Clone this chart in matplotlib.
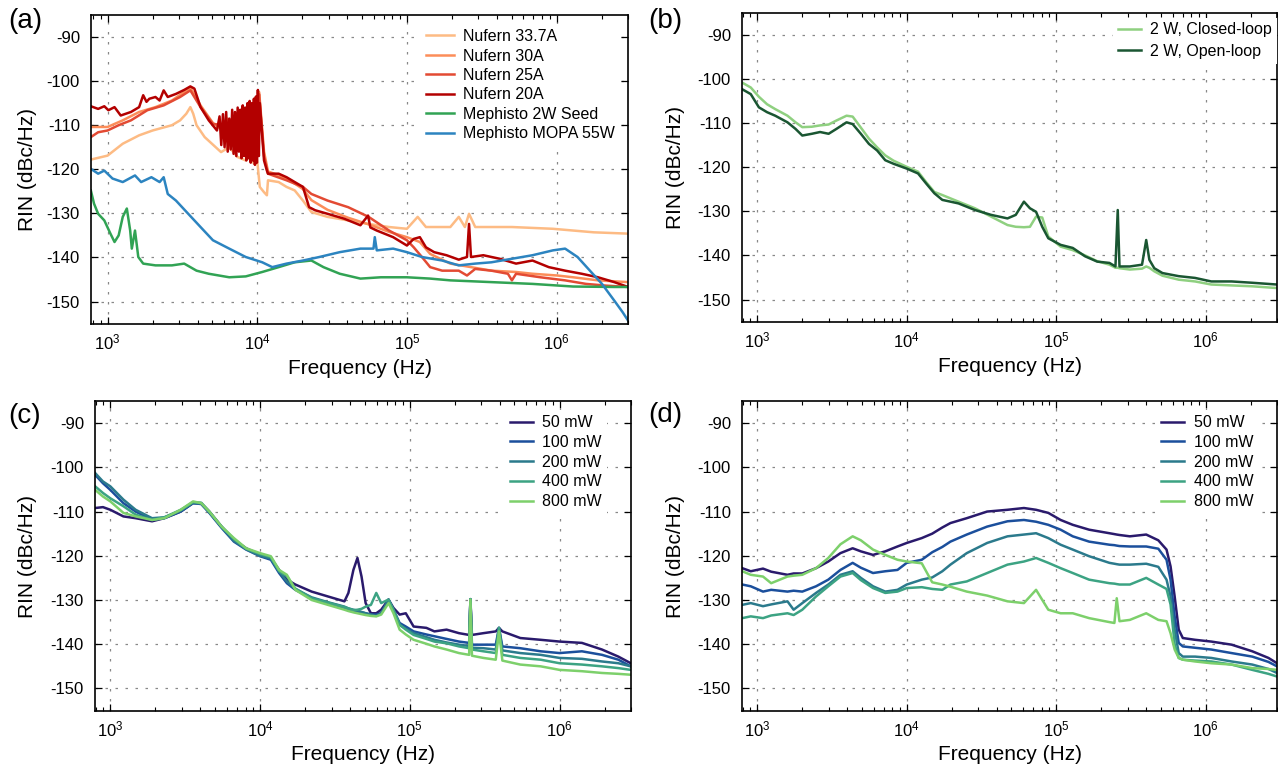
import matplotlib.pyplot as plt
import matplotlib.ticker as ticker

plt.rcParams['font.family'] = ['Liberation Sans', 'DejaVu Sans']
plt.rcParams['axes.unicode_minus'] = False
plt.rcParams['mathtext.default'] = 'regular'

# ---------------- panel (a) ----------------
n337_f = [773, 1000, 1263, 1625, 2000, 2692, 3052, 3357, 3573, 3735, 3930, 4455, 5728, 6500, 7380,
          8380, 8910, 9480, 9940, 10400, 11100, 11600, 11800, 13900, 15700, 17800, 20200, 23000,
          29500, 40500, 55500, 76000, 100000, 118000, 134000, 195000, 222000, 244000, 260000,
          286000, 503000, 944000, 1770000, 3000000]
n337_v = [-117.8, -116.9, -114.2, -112.3, -111.2, -110.0, -108.9, -107.4, -105.9, -107.4, -110.0,
          -112.7, -116.1, -115.0, -117.2, -118.0, -116.9, -118.7, -117.2, -124.0, -125.2, -125.9,
          -122.5, -122.9, -124.0, -124.8, -127.1, -129.7, -130.8, -131.6, -132.4, -133.1, -133.5,
          -130.8, -133.1, -133.1, -130.8, -133.1, -130.1, -133.1, -133.1, -133.5, -134.3, -134.6]

n30_f = [773, 1000, 1263, 1625, 2089, 2692, 3573, 4180, 5057, 5800, 6300, 6800, 7300, 7800, 8300,
         8800, 9300, 9800, 10300, 11100, 11800, 15700, 20200, 23000, 29500, 40500, 55500, 76000,
         100000, 122000, 143000, 195000, 268000, 367000, 536000, 690000, 1010000, 1290000,
         1890000, 3000000]
n30_v = [-110.4, -110.4, -108.9, -107.0, -105.9, -104.4, -101.5, -105.5, -109.5, -111.0, -108.5,
         -113.0, -109.0, -112.5, -108.0, -113.5, -107.0, -111.5, -102.5, -116.0, -120.5, -122.0,
         -124.5, -127.0, -129.2, -131.0, -132.5, -134.2, -135.4, -136.5, -139.2, -141.4, -142.2,
         -143.0, -143.3, -143.7, -144.1, -144.5, -145.2, -145.6]

n25_f = [773, 865, 1000, 1186, 1433, 1844, 2371, 3052, 3573, 4180, 5057, 6000, 6500, 7000, 7500,
         8000, 8500, 9000, 9500, 10000, 10300, 11100, 11800, 15700, 20200, 23000, 29500, 40500,
         55500, 76000, 100000, 111000, 126000, 143000, 172000, 222000, 252000, 286000, 367000,
         473000, 503000, 536000, 780000, 1140000, 1570000, 2150000, 3000000]
n25_v = [-112.7, -111.6, -111.2, -110.0, -108.9, -106.6, -105.5, -103.6, -102.1, -105.9, -109.7,
         -110.0, -113.0, -109.0, -114.0, -108.0, -115.0, -107.0, -114.0, -104.0, -103.0, -117.0,
         -121.0, -122.5, -124.0, -125.6, -127.1, -128.6, -130.8, -133.9, -136.1, -137.7, -139.9,
         -142.2, -143.0, -143.0, -144.1, -142.6, -143.0, -143.7, -145.2, -143.7, -144.5, -145.2,
         -146.0, -146.4, -146.7]

n20_f = [773, 865, 951, 1013, 1113, 1224, 1433, 1625, 1730, 1820, 1901, 2089, 2227, 2371, 2524,
         2864, 3250, 3573, 3802, 4180, 4742, 5380,
         5600, 5750, 5900, 6050, 6200, 6350, 6500, 6650, 6800, 6950, 7100, 7250, 7400, 7550, 7700,
         7850, 8000, 8150, 8300, 8450, 8600, 8750, 8900, 9050, 9200, 9350, 9500, 9650, 9800, 9950,
         10100, 10250, 10400,
         11100, 11600, 11800, 13900, 15700, 17800, 20200, 22200, 24400, 29500, 38000, 48900,
         55000, 57000, 62900, 80900, 100000, 111000, 122000, 134000, 152000, 184000, 222000,
         252000, 260000, 268000, 324000, 417000, 536000, 690000, 887000, 1140000, 1470000,
         1890000, 2430000, 3000000]
n20_v = [-105.7, -106.3, -105.7, -106.6, -105.9, -107.8, -107.0, -105.9, -103.2, -104.7, -104.0,
         -103.6, -104.4, -102.1, -103.6, -102.9, -102.0, -101.2, -101.7, -105.9, -108.9, -111.2,
         -108.0, -114.5, -107.5, -115.0, -107.0, -116.0, -108.5, -115.5, -106.5, -116.5, -107.0,
         -117.0, -106.0, -116.0, -106.5, -117.5, -105.5, -117.0, -106.0, -118.0, -105.0, -117.5,
         -104.5, -118.5, -105.0, -118.0, -104.0, -119.0, -103.5, -118.5, -102.0, -117.0, -105.0,
         -118.0, -120.3, -121.0, -121.0, -121.8, -122.9, -124.0, -128.6, -129.3, -130.1, -131.2,
         -132.7, -130.5, -133.2, -133.9, -135.4, -137.3, -135.8, -135.4, -137.7, -138.8, -139.5,
         -140.5, -139.9, -132.4, -139.9, -139.5, -140.3, -141.4, -140.7, -142.2, -143.0, -143.7,
         -144.5, -145.6, -146.7]

seed_f = [773, 812, 865, 951, 1045, 1113, 1186, 1263, 1345, 1416, 1452, 1525, 1604, 1730, 2089,
          2692, 3250, 3930, 4742, 6500, 8380, 10800, 13900, 17800, 23000, 27700, 35600, 48900,
          67000, 100000, 143000, 195000, 268000, 367000, 690000, 1290000, 2430000, 3000000]
seed_v = [-124.8, -127.8, -130.1, -131.6, -134.6, -136.5, -135.0, -130.8, -128.9, -133.9, -138.0,
          -133.9, -139.9, -141.4, -141.8, -141.8, -141.4, -143.0, -143.7, -144.5, -144.3, -143.3,
          -142.2, -141.1, -140.7, -142.2, -143.7, -144.8, -144.5, -144.5, -144.8, -145.2, -145.4,
          -145.6, -146.0, -146.6, -146.7, -146.7]

mopa_f = [773, 865, 951, 1079, 1263, 1525, 1676, 1963, 2227, 2371, 2524, 2864, 3459, 4180, 5057,
          6500, 8380, 10800, 12600, 15700, 20200, 26000, 35600, 48900, 59800, 61000, 62900, 80900,
          100000, 126000, 172000, 222000, 286000, 367000, 503000, 690000, 944000, 1140000,
          1380000, 1670000, 2010000, 2430000, 2760000, 3000000]
mopa_v = [-119.9, -121.0, -120.3, -122.1, -122.9, -121.4, -122.9, -121.8, -122.9, -121.8, -125.6,
          -127.1, -130.1, -133.1, -136.1, -138.0, -139.9, -141.1, -142.2, -141.4, -140.7, -139.9,
          -138.8, -138.0, -138.0, -135.4, -138.4, -138.0, -138.8, -139.9, -140.7, -141.8, -141.4,
          -141.1, -140.3, -139.5, -138.4, -138.0, -139.9, -143.0, -146.0, -149.8, -152.4, -154.3]

# ---------------- panel (b) ----------------
freq_b = [793, 904, 1025, 1162, 1318, 1592, 1803, 2000, 2318, 2630, 3000, 3381, 3955, 4345, 4930,
          5585, 6340, 7178, 8150, 10000, 11900, 13500, 15300, 17300, 22200, 28600, 36700, 47200,
          53600, 60800, 66700, 73300, 80600, 88500, 107000, 129000, 156000, 188000, 227000,
          249000, 258000, 265000, 311000, 375000, 400000, 420000, 453000, 514000, 660000, 849000,
          1090000, 1490000, 2050000, 3000000]
open_loop = [-102.3, -103.4, -106.4, -107.5, -108.3, -109.8, -111.3, -112.8, -112.4, -112.0, -112.4,
             -111.3, -109.8, -110.2, -112.4, -114.7, -116.2, -118.4, -119.2, -120.3, -121.4, -123.7,
             -125.9, -127.4, -128.2, -129.7, -130.8, -131.6, -130.8, -127.8, -129.3, -130.1, -133.5,
             -136.1, -137.6, -138.3, -140.2, -141.4, -141.7, -142.5, -129.7, -142.5, -142.5, -142.1,
             -136.5, -141.0, -142.9, -144.0, -144.7, -145.1, -145.9, -145.9, -146.2, -146.6]
closed_loop = [-100.8, -101.9, -104.0, -105.7, -106.8, -108.3, -109.8, -110.9, -110.8, -110.5,
               -110.3, -109.4, -108.3, -108.5, -111.0, -113.5, -115.5, -117.3, -118.5, -119.9,
               -121.0, -123.4, -125.6, -126.3, -127.8, -129.3, -131.2, -133.1, -133.5, -133.6,
               -133.5, -131.2, -131.4, -135.7, -138.0, -138.8, -140.0, -141.3, -142.1, -142.8,
               -142.8, -142.9, -143.2, -143.0, -142.5, -142.8, -143.6, -144.6, -145.5, -145.9,
               -146.6, -146.8, -147.0, -147.4]

# ---------------- panel (c) ----------------
freq_c = [792, 893, 1000, 1223, 1476, 1900, 2296, 2952, 3565, 4044, 4583, 5536, 6686, 8072, 10000,
          11800, 13400, 15100, 17200, 22100, 28400, 36600, 38900, 42000, 44700, 47600, 50700,
          55000, 59700, 64400, 72100, 77800, 85500, 94000, 106000, 129000, 146000, 176000, 213000,
          249000, 254000, 260000, 310000, 375000, 394000, 415000, 547000, 748000, 1000000,
          1410000, 1920000, 2470000, 2990000]
c_50 = [-109.2, -109.0, -109.6, -111.1, -111.5, -112.2, -111.5, -110.0, -108.1, -108.1, -110.0,
        -113.4, -116.4, -118.3, -119.8, -120.5, -123.2, -125.4, -126.5, -128.1, -129.2, -130.3,
        -128.4, -123.2, -120.5, -124.7, -130.7, -133.0, -133.0, -132.2, -129.9, -131.8, -133.3,
        -133.0, -136.0, -136.3, -137.1, -136.7, -137.5, -137.9, -129.9, -137.9, -137.5, -137.1,
        -136.3, -137.1, -138.6, -139.0, -139.4, -139.7, -141.2, -142.8, -144.3]
c_100 = [-101.7, -103.6, -105.1, -108.1, -110.0, -111.9, -111.5, -110.0, -108.1, -108.3, -110.3,
         -113.7, -116.8, -118.6, -120.1, -120.9, -123.9, -126.2, -127.7, -129.6, -130.7, -131.8,
         -132.2, -132.5, -132.6, -132.8, -133.0, -133.3, -133.3, -133.0, -129.9, -132.2, -135.2,
         -136.0, -137.1, -137.8, -138.2, -138.8, -139.4, -139.7, -129.8, -140.1, -140.1, -140.1,
         -136.3, -140.5, -140.9, -141.6, -142.0, -141.6, -142.4, -143.5, -145.0]
c_200 = [-101.3, -103.2, -104.3, -107.3, -109.6, -111.5, -111.3, -109.8, -108.0, -108.2, -110.2,
         -113.5, -116.6, -118.5, -120.0, -120.6, -123.5, -125.8, -127.5, -129.4, -130.5, -131.5,
         -131.9, -132.2, -132.4, -132.7, -133.0, -133.3, -133.6, -133.0, -130.0, -132.5, -135.6,
         -136.5, -137.5, -138.4, -139.0, -139.6, -140.1, -140.4, -129.8, -140.8, -140.9, -141.2,
         -136.3, -141.4, -142.0, -142.4, -143.1, -143.3, -143.9, -144.3, -145.0]
c_400 = [-104.3, -105.8, -107.0, -108.8, -110.7, -111.9, -111.3, -109.6, -107.9, -108.0, -110.0,
         -113.4, -116.2, -118.4, -119.6, -120.3, -123.5, -124.6, -127.4, -129.6, -130.6, -131.6,
         -131.9, -132.3, -132.2, -132.0, -131.5, -131.1, -128.4, -130.7, -129.9, -132.2, -135.6,
         -136.7, -137.9, -138.8, -139.4, -139.8, -140.5, -140.9, -129.8, -141.2, -141.6, -142.0,
         -136.3, -142.4, -143.1, -143.5, -144.3, -144.6, -145.0, -145.4, -145.8]
c_800 = [-105.1, -106.6, -107.7, -110.3, -111.1, -111.9, -111.5, -109.6, -107.7, -108.1, -110.0,
         -113.4, -116.0, -118.3, -119.4, -120.1, -123.2, -124.3, -127.7, -130.0, -131.1, -132.2,
         -132.5, -132.8, -133.0, -133.2, -133.4, -133.6, -133.7, -133.3, -130.7, -133.0, -136.7,
         -137.8, -139.0, -139.9, -140.5, -141.2, -142.0, -142.4, -129.9, -142.6, -143.1, -143.5,
         -137.1, -143.7, -144.6, -145.0, -145.8, -146.1, -146.5, -146.7, -146.9]

# ---------------- panel (d) ----------------
freq_d = [793, 904, 1092, 1238, 1592, 1750, 2000, 2472, 2985, 3599, 4345, 4930, 5945, 7178, 8666,
          10000, 12600, 14800, 17300, 19600, 25200, 34500, 47200, 60800, 73300, 88500, 107000,
          129000, 166000, 227000, 245000, 254000, 265000, 311000, 400000, 482000, 547000, 582000,
          620000, 660000, 703000, 849000, 1090000, 1490000, 2050000, 2630000, 3000000]
d_50 = [-122.8, -123.5, -122.9, -123.6, -124.3, -124.0, -124.0, -122.8, -121.3, -119.4, -118.3,
        -119.0, -119.8, -119.0, -117.9, -117.1, -116.0, -115.0, -113.6, -112.6, -111.5, -110.0,
        -109.6, -109.2, -109.6, -110.3, -111.9, -113.0, -114.1, -114.9, -115.1, -115.2, -115.3,
        -115.6, -115.2, -116.5, -118.6, -122.4, -129.2, -136.7, -138.6, -139.0, -139.4, -140.1,
        -141.6, -143.1, -144.3]
d_100 = [-126.5, -126.9, -128.1, -127.7, -128.1, -127.9, -128.1, -126.9, -125.4, -123.2, -121.6,
         -122.7, -123.9, -123.5, -123.2, -121.6, -120.9, -119.2, -118.0, -116.8, -115.2, -113.4,
         -112.2, -111.9, -112.3, -113.0, -114.1, -115.6, -116.8, -117.5, -117.6, -117.7, -117.8,
         -117.9, -117.9, -118.4, -120.9, -125.4, -133.7, -139.7, -140.5, -140.8, -141.2, -142.0,
         -142.8, -144.0, -145.0]
d_200 = [-131.1, -130.7, -131.4, -131.0, -130.3, -132.2, -130.7, -128.4, -126.5, -124.3, -123.5,
         -125.0, -126.9, -128.1, -127.7, -126.5, -125.4, -124.9, -123.5, -122.0, -119.4, -117.1,
         -115.6, -115.2, -114.9, -116.0, -117.5, -118.6, -120.1, -121.6, -121.8, -121.9, -122.0,
         -122.0, -121.8, -122.5, -125.4, -129.2, -136.7, -142.0, -142.8, -142.8, -143.1, -143.9,
         -144.6, -145.6, -146.5]
d_400 = [-134.1, -133.7, -134.1, -133.5, -133.0, -133.4, -132.2, -129.2, -126.9, -124.7, -123.9,
         -125.5, -127.3, -128.4, -128.1, -127.3, -127.1, -127.5, -127.7, -126.5, -125.8, -123.9,
         -122.0, -121.3, -120.5, -121.6, -122.8, -123.9, -125.4, -126.2, -126.3, -126.4, -126.5,
         -126.5, -125.0, -126.5, -127.5, -131.0, -140.0, -143.1, -143.5, -143.7, -143.9, -144.6,
         -145.8, -146.7, -147.3]
d_800 = [-123.5, -124.3, -124.7, -126.2, -124.7, -124.5, -124.3, -122.8, -120.5, -117.4, -115.6,
         -116.5, -118.6, -119.8, -120.9, -121.3, -121.7, -126.0, -126.5, -127.0, -128.1, -129.0,
         -130.3, -130.7, -127.7, -132.2, -133.0, -133.0, -134.1, -135.0, -135.2, -129.6, -134.8,
         -134.5, -133.0, -134.5, -134.8, -137.5, -141.2, -143.1, -143.5, -143.9, -144.3, -144.6,
         -145.4, -145.6, -145.8]

power_labels = ['50 mW', '100 mW', '200 mW', '400 mW', '800 mW']
power_colors = ['#2a1a6c', '#1b4f9c', '#2b7a8c', '#3ca383', '#7dd06b']

fig = plt.figure(figsize=(12.78, 7.66), dpi=100)
W, H = 1278.0, 766.0


def make_axes(left, right, top, bottom):
    return fig.add_axes([left / W, 1 - bottom / H, (right - left) / W, (bottom - top) / H])


def style(ax, xmin):
    ax.set_xscale('log')
    ax.set_xlim(xmin, 3.0e6)
    ax.set_ylim(-155.1, -85.0)
    ax.set_yticks([-150, -140, -130, -120, -110, -100, -90])
    ax.xaxis.set_major_locator(ticker.LogLocator(base=10, numticks=10))
    ax.xaxis.set_minor_locator(ticker.LogLocator(base=10, subs=range(2, 10), numticks=20))
    ax.xaxis.set_minor_formatter(ticker.NullFormatter())
    ax.grid(True, which='major', color='#888888', linestyle=(0, (2, 6)), linewidth=0.9)
    ax.tick_params(which='both', direction='in', top=True, right=True)
    ax.tick_params(which='major', length=5, width=0.9)
    ax.tick_params(which='minor', length=3, width=0.8)
    ax.tick_params(axis='y', labelsize=12, pad=8)
    ax.tick_params(axis='x', labelsize=12, pad=6)
    for s in ax.spines.values():
        s.set_linewidth(1.2)
    ax.set_xlabel('Frequency (Hz)', fontsize=15)
    ax.set_ylabel('RIN (dBc/Hz)', fontsize=15)


def legend(ax, **kw):
    lg = ax.legend(fontsize=11.5, frameon=True, fancybox=False, edgecolor='none',
                   facecolor='white', framealpha=1, handletextpad=0.6, borderpad=0.3, **kw)
    return lg


lw = 1.8

# (a)
ax = make_axes(91, 628, 15, 324)
ax.plot(n337_f, n337_v, color='#fdbb84', lw=lw, label='Nufern 33.7A')
ax.plot(n30_f, n30_v, color='#fc8d59', lw=lw, label='Nufern 30A')
ax.plot(n25_f, n25_v, color='#e34a33', lw=lw, label='Nufern 25A')
ax.plot(n20_f, n20_v, color='#b30000', lw=lw, label='Nufern 20A')
ax.plot(seed_f, seed_v, color='#31a354', lw=lw, label='Mephisto 2W Seed')
ax.plot(mopa_f, mopa_v, color='#2c84c0', lw=lw, label='Mephisto MOPA 55W')
style(ax, 775)
ax.yaxis.set_label_coords(-0.1, 0.5)
ax.xaxis.set_label_coords(0.5, -0.113)
legend(ax, loc='upper right', bbox_to_anchor=(0.985, 0.97), labelspacing=0.28,
       handlelength=1.75, borderaxespad=0)

# (b)
ax = make_axes(742, 1277, 13, 322)
ax.plot(freq_b, closed_loop, color='#8fd080', lw=lw, label='2 W, Closed-loop')
ax.plot(freq_b, open_loop, color='#1a5632', lw=lw, label='2 W, Open-loop')
style(ax, 790)
ax.yaxis.set_label_coords(-0.107, 0.5)
ax.xaxis.set_label_coords(0.5, -0.113)
legend(ax, loc='upper right', bbox_to_anchor=(1.0, 0.985), labelspacing=0.4,
       handlelength=1.45, borderaxespad=0)

# (c)
ax = make_axes(95, 631, 401, 711)
for vals, lab, col in zip([c_50, c_100, c_200, c_400, c_800], power_labels, power_colors):
    ax.plot(freq_c, vals, color=col, lw=lw, label=lab)
style(ax, 790)
ax.yaxis.set_label_coords(-0.108, 0.5)
ax.xaxis.set_label_coords(0.5, -0.11)
legend(ax, loc='upper right', bbox_to_anchor=(0.955, 0.97), labelspacing=0.3,
       handlelength=1.45, borderaxespad=0)

# (d)
ax = make_axes(742, 1277, 401, 711)
for vals, lab, col in zip([d_50, d_100, d_200, d_400, d_800], power_labels, power_colors):
    ax.plot(freq_d, vals, color=col, lw=lw, label=lab)
style(ax, 790)
ax.yaxis.set_label_coords(-0.107, 0.5)
ax.xaxis.set_label_coords(0.5, -0.11)
legend(ax, loc='upper right', bbox_to_anchor=(0.965, 0.97), labelspacing=0.3,
       handlelength=1.45, borderaxespad=0)

for txt, x, y in [('(a)', 25, 21), ('(b)', 665, 21), ('(c)', 25, 416), ('(d)', 665, 415)]:
    fig.text(x / W, 1 - y / H, txt, fontsize=20, ha='center', va='center')

fig.savefig('out.png', dpi=100)
